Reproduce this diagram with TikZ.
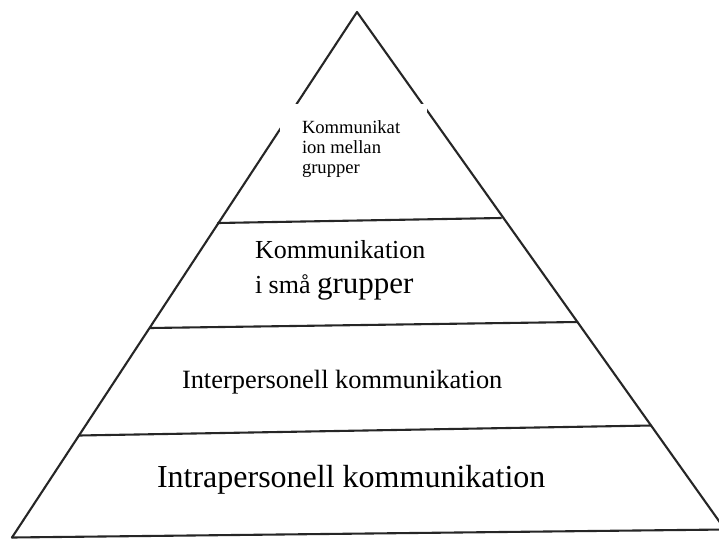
\documentclass[tikz,border=0pt]{standalone}
\usepackage{fontspec}
\setmainfont{Liberation Serif}
\begin{document}
\begin{tikzpicture}[x=1pt,y=-1pt,
  edge/.style={line width=2.1pt,color=black!85,line cap=round,line join=round},
  lbl/.style={anchor=base west,inner sep=0pt,outer sep=0pt,text=black}]
\useasboundingbox (0,0) rectangle (719,538);
\fill[white] (0,0) rectangle (719,538);
\clip (0,0) rectangle (719,538);
% corners of the pyramid
\coordinate (apex) at (357,12);
\coordinate (bl) at (12,537.5);
\coordinate (br) at (725,529.5);
% layer lines
\coordinate (l1a) at (218,223);
\coordinate (l1b) at (501,218);
\coordinate (l2a) at (150,328);
\coordinate (l2b) at (577.5,322);
\coordinate (l3a) at (79,435.5);
\coordinate (l3b) at (651,425.5);
\draw[edge] (bl) -- (apex) -- (br);
\draw[edge] (bl) -- (br);
\draw[edge] (l1a) -- (l1b);
\draw[edge] (l2a) -- (l2b);
\draw[edge] (l3a) -- (l3b);
% white patch over the top
\fill[white] (280,104) rectangle (427,200);
% texts
\node[lbl,font=\fontsize{18.6}{20}\selectfont] (t1) at (302,133) {Kommunikat};
\node[lbl,font=\fontsize{18.6}{20}\selectfont] (t2) at (302,153) {ion mellan};
\node[lbl,font=\fontsize{18.6}{20}\selectfont] (t3) at (302,173) {grupper};
\node[lbl,font=\fontsize{26}{28}\selectfont] (s1) at (255,258) {Kommunikation};
\node[lbl,font=\fontsize{26}{28}\selectfont] (s2) at (255,293) {i små {\fontsize{31}{33}\selectfont grupper}};
\node[lbl,font=\fontsize{26.4}{28}\selectfont] (ip) at (182,388) {Interpersonell kommunikation};
\node[lbl,font=\fontsize{32}{34}\selectfont] (ia) at (157,487) {Intrapersonell kommunikation};
\end{tikzpicture}
\end{document}
